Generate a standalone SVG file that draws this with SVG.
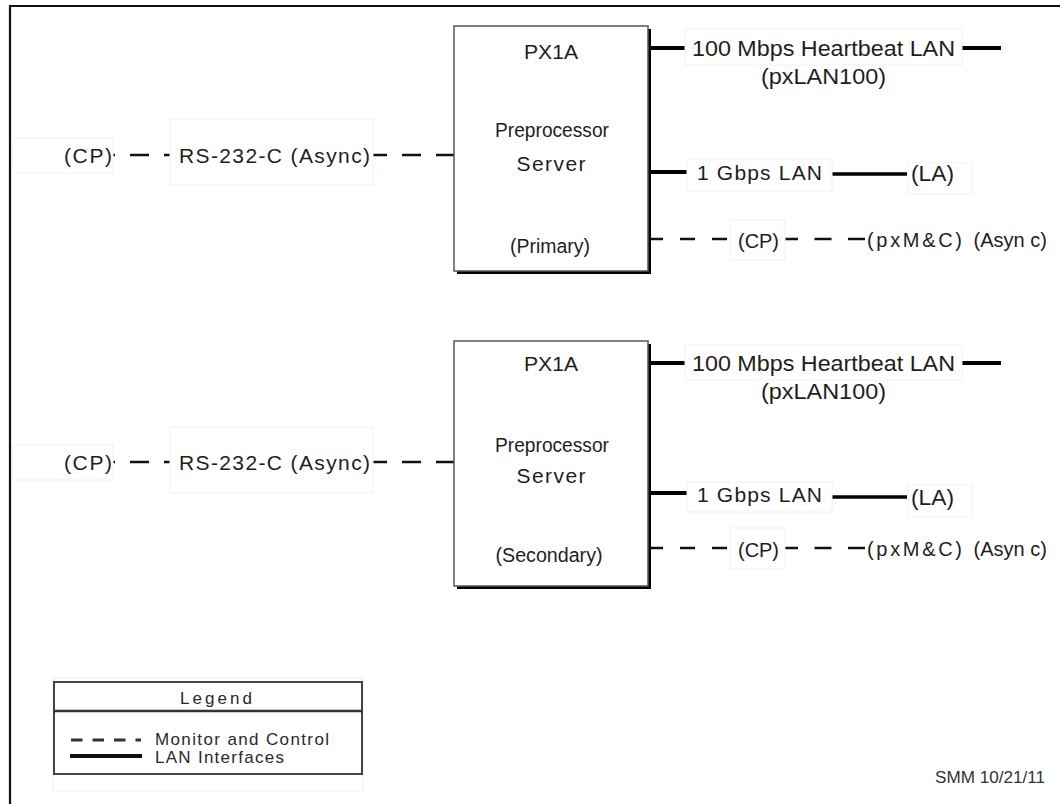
<svg xmlns="http://www.w3.org/2000/svg" width="1060" height="804" viewBox="0 0 1060 804">
<style>
  text { font-family: "Liberation Sans", Arial, sans-serif; fill: #1e1e1e; }
  .t21 { font-size: 21px; }
  .t20 { font-size: 20px; }
  .t22 { font-size: 22px; }
  .leg { font-size: 17px; fill: #2a2a2a; }
  .mid { text-anchor: middle; }
  .box { fill: #ffffff; stroke: #555555; stroke-width: 1.5; }
  .shadow { fill: #000000; }
  .faint { fill: #ffffff; stroke: #f1f1f1; stroke-width: 1; }
  .lan { fill: none; stroke: #000000; stroke-width: 4; }
  .lan2 { fill: none; stroke: #000000; stroke-width: 3.5; }
  .mc { fill: none; stroke: #111111; stroke-width: 2.5; }
  .frame { fill: none; stroke: #111111; stroke-width: 2.2; }
</style>

<path class="frame" d="M10,804 V6 H1060"/>

<!-- connectors -->
<g id="connectors">
  <!-- primary -->
  <path class="mc" d="M112,155 H171" stroke-dasharray="19 15" stroke-dashoffset="16"/>
  <path class="mc" d="M373,155 H454" stroke-dasharray="19 15" stroke-dashoffset="5"/>
  <path class="lan" d="M649,48 H685"/>
  <path class="lan" d="M961,48 H1001"/>
  <path class="lan" d="M649,172 H688"/>
  <path class="lan2" d="M832,174 H907"/>
  <path class="mc" d="M649,239 H731" stroke-dasharray="15 17" stroke-dashoffset="1"/>
  <path class="mc" d="M781,239 H867" stroke-dasharray="17 16.5"/>
  <!-- secondary -->
  <path class="mc" d="M112,462 H171" stroke-dasharray="19 15" stroke-dashoffset="16"/>
  <path class="mc" d="M373,462 H454" stroke-dasharray="19 15" stroke-dashoffset="5"/>
  <path class="lan" d="M649,363 H685"/>
  <path class="lan" d="M961,363 H1001"/>
  <path class="lan" d="M649,493 H688"/>
  <path class="lan2" d="M832,497 H907"/>
  <path class="mc" d="M649,548 H731" stroke-dasharray="15 17" stroke-dashoffset="1"/>
  <path class="mc" d="M781,548 H867" stroke-dasharray="17 16.5"/>
</g>

<!-- primary server -->
<g id="server-primary">
  <rect class="shadow" x="457" y="29" width="194" height="245"/>
  <rect class="box" x="454" y="26" width="194" height="245"/>
  <text class="t21 mid" x="551" y="59" textLength="54" lengthAdjust="spacingAndGlyphs">PX1A</text>
  <text class="t20 mid" x="552" y="137" textLength="114" lengthAdjust="spacingAndGlyphs">Preprocessor</text>
  <text class="t21 mid" x="551" y="171" textLength="69">Server</text>
  <text class="t20 mid" x="550" y="253" textLength="80" lengthAdjust="spacingAndGlyphs">(Primary)</text>
</g>

<g id="cp-left-primary">
  <rect class="faint" x="13" y="138" width="100" height="35"/>
  <text class="t21" x="64" y="163" textLength="48">(CP)</text>
</g>
<g id="rs232-primary">
  <rect class="faint" x="170" y="119" width="203" height="66"/>
  <text class="t21" x="179" y="163" textLength="191">RS-232-C (Async)</text>
</g>
<g id="hb-lan-primary">
  <rect class="faint" x="685" y="29" width="277" height="36"/>
  <text class="t22" x="692" y="56" textLength="263" lengthAdjust="spacingAndGlyphs">100 Mbps Heartbeat LAN</text>
  <text class="t22" x="761" y="84" textLength="125" lengthAdjust="spacingAndGlyphs">(pxLAN100)</text>
</g>
<g id="gbps-lan-primary">
  <rect class="faint" x="687" y="159" width="145" height="32"/>
  <text class="t21" x="697" y="180" textLength="125">1 Gbps LAN</text>
</g>
<g id="la-primary">
  <rect class="faint" x="908" y="163" width="64" height="31"/>
  <text class="t22" x="911" y="181" textLength="43" lengthAdjust="spacingAndGlyphs">(LA)</text>
</g>
<g id="cp-right-primary">
  <rect class="faint" x="730" y="220" width="55" height="40"/>
  <text class="t20" x="738" y="248" textLength="41" lengthAdjust="spacingAndGlyphs">(CP)</text>
</g>
<g id="pxmc-primary">
  <text class="t20" y="247"><tspan x="867" textLength="95">(pxM&amp;C)</tspan><tspan x="968" textLength="79"> (Asyn c)</tspan></text>
</g>

<!-- secondary server -->
<g id="server-secondary">
  <rect class="shadow" x="457" y="344" width="194" height="245"/>
  <rect class="box" x="454" y="341" width="194" height="245"/>
  <text class="t21 mid" x="551" y="371" textLength="54" lengthAdjust="spacingAndGlyphs">PX1A</text>
  <text class="t20 mid" x="552" y="452" textLength="114" lengthAdjust="spacingAndGlyphs">Preprocessor</text>
  <text class="t21 mid" x="551" y="483" textLength="69">Server</text>
  <text class="t20 mid" x="549" y="562" textLength="107" lengthAdjust="spacingAndGlyphs">(Secondary)</text>
</g>

<g id="cp-left-secondary">
  <rect class="faint" x="13" y="445" width="100" height="35"/>
  <text class="t21" x="64" y="470" textLength="48">(CP)</text>
</g>
<g id="rs232-secondary">
  <rect class="faint" x="170" y="427" width="203" height="66"/>
  <text class="t21" x="179" y="470" textLength="191">RS-232-C (Async)</text>
</g>
<g id="hb-lan-secondary">
  <rect class="faint" x="685" y="345" width="277" height="35"/>
  <text class="t22" x="692" y="371" textLength="263" lengthAdjust="spacingAndGlyphs">100 Mbps Heartbeat LAN</text>
  <text class="t22" x="761" y="399" textLength="125" lengthAdjust="spacingAndGlyphs">(pxLAN100)</text>
</g>
<g id="gbps-lan-secondary">
  <rect class="faint" x="687" y="482" width="145" height="30"/>
  <text class="t21" x="697" y="502" textLength="125">1 Gbps LAN</text>
</g>
<g id="la-secondary">
  <rect class="faint" x="908" y="485" width="64" height="32"/>
  <text class="t22" x="911" y="505" textLength="43" lengthAdjust="spacingAndGlyphs">(LA)</text>
</g>
<g id="cp-right-secondary">
  <rect class="faint" x="730" y="528" width="55" height="41"/>
  <text class="t20" x="738" y="557" textLength="41" lengthAdjust="spacingAndGlyphs">(CP)</text>
</g>
<g id="pxmc-secondary">
  <text class="t20" y="556"><tspan x="867" textLength="95">(pxM&amp;C)</tspan><tspan x="968" textLength="79"> (Asyn c)</tspan></text>
</g>

<!-- legend -->
<g id="legend">
  <rect class="faint" x="53" y="678" width="310" height="113"/>
  <rect x="54" y="682" width="308" height="92" fill="#ffffff" stroke="#444444" stroke-width="2"/>
  <line x1="54" y1="711" x2="362" y2="711" stroke="#333333" stroke-width="2.5"/>
  <text class="leg mid" x="216" y="704" textLength="72">Legend</text>
  <line x1="71" y1="740" x2="141" y2="740" stroke="#333333" stroke-width="3" stroke-dasharray="11.5 10"/>
  <text class="leg" x="155" y="745" textLength="174">Monitor and Control</text>
  <line x1="70" y1="756" x2="142" y2="756" stroke="#111111" stroke-width="4"/>
  <text class="leg" x="155" y="763" textLength="129">LAN Interfaces</text>
</g>

<g id="signature">
  <text x="935" y="783" font-size="16" textLength="110" lengthAdjust="spacingAndGlyphs" style="fill:#333333">SMM 10/21/11</text>
</g>
</svg>
